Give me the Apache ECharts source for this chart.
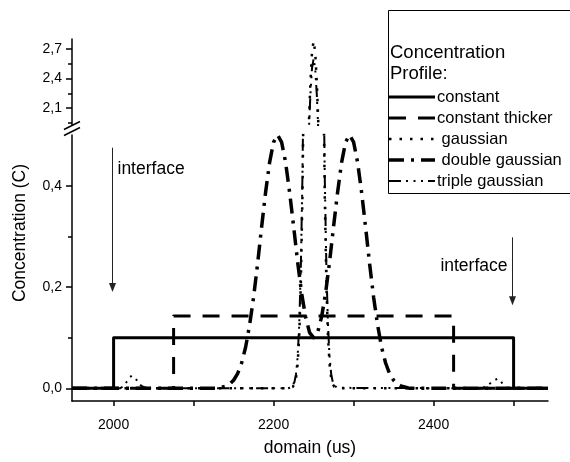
<!DOCTYPE html>
<html>
<head>
<meta charset="utf-8">
<script src="https://cdn.jsdelivr.net/npm/echarts@6/dist/echarts.min.js"></script>
<style>
  html, body { margin: 0; padding: 0; background: #fff; }
  #chart { width: 570px; height: 462px; }
</style>
</head>
<body>
<div id="chart"></div>
<script>
const FONT = 'Liberation Sans, Arial, sans-serif'

// domain axis
const domainMin = 1948
const domainMax = 2543
const domainTicks = [2000, 2100, 2200, 2300, 2400, 2500]
const domainLabels = [2000, 2200, 2400]

// broken concentration axis
const upperMin = 1.93
const upperMax = 2.8
const upperTicks = [2.1, 2.4, 2.7]
const upperMinorTicks = [1.95, 2.25, 2.55]
const lowerMin = -0.025
const lowerMax = 0.5
const lowerTicks = [0, 0.2, 0.4]
const lowerMinorTicks = [0.1, 0.3]

const profileNames = ['constant', 'constant thicker', 'gaussian', 'double gaussian', 'triple gaussian']

// profiles: [domain, concentration]
const constant = [[1948, 0], [2000, 0], [2000, 0.1], [2500, 0.1], [2500, 0], [2543, 0]]
const constantThicker = [[1948, 0], [2075, 0], [2075, 0.143], [2425, 0.143], [2425, 0], [2543, 0]]
const gaussian = [
  [1948, 0], [2220, 0], [2222, 0.001], [2224, 0.003], [2226, 0.008], [2228, 0.02], [2230, 0.047],
  [2232, 0.102], [2234, 0.204], [2236, 0.376], [2238, 0.64], [2240, 1.002], [2242, 1.447],
  [2244, 1.926], [2246, 2.361], [2248, 2.669], [2250, 2.78], [2252, 2.669], [2254, 2.361],
  [2256, 1.926], [2258, 1.447], [2260, 1.002], [2262, 0.64], [2264, 0.376], [2266, 0.204],
  [2268, 0.102], [2270, 0.047], [2272, 0.02], [2274, 0.008], [2276, 0.003], [2278, 0.001],
  [2280, 0], [2543, 0]
]
const doubleGaussian = [
  [1948, 0], [2130, 0], [2135, 0.002], [2140, 0.004], [2145, 0.008], [2150, 0.016], [2155, 0.029],
  [2160, 0.05], [2165, 0.081], [2170, 0.125], [2175, 0.18], [2180, 0.246], [2185, 0.318],
  [2190, 0.387], [2195, 0.446], [2200, 0.486], [2205, 0.5], [2210, 0.486], [2215, 0.446],
  [2220, 0.387], [2225, 0.32], [2230, 0.25], [2235, 0.188], [2240, 0.141], [2245, 0.11],
  [2250, 0.1], [2255, 0.11], [2260, 0.141], [2265, 0.188], [2270, 0.25], [2275, 0.32],
  [2280, 0.387], [2285, 0.446], [2290, 0.486], [2295, 0.5], [2300, 0.486], [2305, 0.446],
  [2310, 0.387], [2315, 0.318], [2320, 0.246], [2325, 0.18], [2330, 0.125], [2335, 0.081],
  [2340, 0.05], [2345, 0.029], [2350, 0.016], [2355, 0.008], [2360, 0.004], [2365, 0.002],
  [2370, 0], [2543, 0]
]
const tripleGaussian = [
  [1948, 0], [2008, 0], [2012, 0.004], [2016, 0.012], [2020, 0.022], [2023, 0.025], [2026, 0.022],
  [2030, 0.014], [2034, 0.006], [2038, 0.002], [2042, 0], [2218, 0], [2220, 0.001], [2222, 0.002],
  [2224, 0.005], [2226, 0.012], [2228, 0.028], [2230, 0.061], [2232, 0.124], [2234, 0.235],
  [2236, 0.413], [2238, 0.674], [2240, 1.018], [2242, 1.427], [2244, 1.855], [2246, 2.238],
  [2248, 2.504], [2250, 2.6], [2252, 2.504], [2254, 2.238], [2256, 1.855], [2258, 1.427],
  [2260, 1.018], [2262, 0.674], [2264, 0.413], [2266, 0.235], [2268, 0.124], [2270, 0.061],
  [2272, 0.028], [2274, 0.012], [2276, 0.005], [2278, 0.002], [2280, 0.001], [2282, 0],
  [2460, 0], [2464, 0.003], [2468, 0.007], [2472, 0.011], [2476, 0.016], [2480, 0.019],
  [2483, 0.017], [2486, 0.009], [2489, 0.003], [2492, 0], [2543, 0]
]

// interface arrows: domain position, arrow top / tip and label height in concentration units
const interfaceArrows = [
  { x: 2000, from: 0.475, to: 0.19, label: 0.432, side: 'right' },
  { x: 2500, from: 0.298, to: 0.164, label: 0.242, side: 'left' },
]

const lineStyles = {
  'constant': { width: 3, type: 'solid' },
  'constant thicker': { width: 3, type: [17, 12] },
  'gaussian': { width: 2.5, type: [2.5, 8] },
  'double gaussian': { width: 3.5, type: [15, 7, 3, 7] },
  'triple gaussian': { width: 2, type: [12, 5, 2, 5.5, 2, 5.5, 2, 5] },
}
const profileData = {
  'constant': constant,
  'constant thicker': constantThicker,
  'gaussian': gaussian,
  'double gaussian': doubleGaussian,
  'triple gaussian': tripleGaussian,
}

const axisColor = '#000'
const tickLabel = v => v.toFixed(1).replace('.', ',')

function makeSeries(name, gridIdx) {
  return {
    name,
    type: 'line',
    xAxisIndex: gridIdx,
    yAxisIndex: gridIdx === 0 ? 0 : 2,
    data: profileData[name],
    symbol: 'none',
    showSymbol: false,
    clip: true,
    silent: true,
    lineStyle: Object.assign({ color: '#000', cap: 'butt', join: 'round' }, lineStyles[name]),
    itemStyle: { color: '#000' },
  }
}

const series = profileNames.map(n => makeSeries(n, 1))
  .concat(['gaussian', 'triple gaussian'].map(n => makeSeries(n, 0)))

const chart = echarts.init(document.getElementById('chart'), null, { renderer: 'canvas' })

chart.setOption({
  animation: false,
  backgroundColor: '#fff',
  grid: [
    { left: 72, top: 39, width: 476, height: 86 },
    { left: 72, top: 135, width: 476, height: 271 },
  ],
  xAxis: [
    { gridIndex: 0, type: 'value', min: domainMin, max: domainMax, show: false },
    {
      gridIndex: 1, type: 'value', min: domainMin, max: domainMax,
      axisLine: { show: true, onZero: false, lineStyle: { color: axisColor, width: 1.5 } },
      axisTick: { show: true, customValues: domainTicks, length: 5, lineStyle: { color: axisColor, width: 1.5 } },
      axisLabel: {
        customValues: domainLabels, formatter: v => String(v), margin: 17,
        color: '#000', fontFamily: FONT, fontSize: 14,
      },
      splitLine: { show: false },
      name: 'domain (us)', nameLocation: 'middle', nameGap: 38,
      nameTextStyle: { color: '#000', fontFamily: FONT, fontSize: 17.5 },
    },
  ],
  yAxis: [
    {
      gridIndex: 0, type: 'value', min: upperMin, max: upperMax, position: 'left',
      axisLine: { show: true, lineStyle: { color: axisColor, width: 1.5 } },
      axisTick: { show: true, customValues: upperTicks, length: 6, lineStyle: { color: axisColor, width: 1.5 } },
      axisLabel: { customValues: upperTicks, formatter: tickLabel, margin: 10, color: '#000', fontFamily: FONT, fontSize: 14 },
      splitLine: { show: false },
    },
    {
      gridIndex: 0, type: 'value', min: upperMin, max: upperMax, position: 'left',
      axisLine: { show: false },
      axisTick: { show: true, customValues: upperMinorTicks, length: 4, lineStyle: { color: axisColor, width: 1.5 } },
      axisLabel: { show: false },
      splitLine: { show: false },
    },
    {
      gridIndex: 1, type: 'value', min: lowerMin, max: lowerMax, position: 'left',
      axisLine: { show: true, onZero: false, lineStyle: { color: axisColor, width: 1.5 } },
      axisTick: { show: true, customValues: lowerTicks, length: 6, lineStyle: { color: axisColor, width: 1.5 } },
      axisLabel: { customValues: lowerTicks, formatter: tickLabel, margin: 10, color: '#000', fontFamily: FONT, fontSize: 14 },
      splitLine: { show: false },
    },
    {
      gridIndex: 1, type: 'value', min: lowerMin, max: lowerMax, position: 'left',
      axisLine: { show: false },
      axisTick: { show: true, customValues: lowerMinorTicks, length: 4, lineStyle: { color: axisColor, width: 1.5 } },
      axisLabel: { show: false },
      splitLine: { show: false },
    },
  ],
  series,
})

// legend box, titles and annotations
const graphics = [
  {
    type: 'rect', shape: { x: 388.5, y: 10.5, width: 200, height: 183 },
    style: { fill: 'none', stroke: '#000', lineWidth: 1 }, silent: true,
  },
  { type: 'text', x: 390, y: 53, style: { text: 'Concentration', fill: '#000', font: '18.5px ' + FONT, verticalAlign: 'middle' } },
  { type: 'text', x: 390, y: 74, style: { text: 'Profile:', fill: '#000', font: '18.5px ' + FONT, verticalAlign: 'middle' } },
  {
    type: 'text', x: 20, y: 233, rotation: Math.PI / 2,
    style: { text: 'Concentration (C)', fill: '#000', font: '17.5px ' + FONT, align: 'center', verticalAlign: 'middle' },
  },
  // axis break marks
  { type: 'line', shape: { x1: 64, y1: 129.5, x2: 80, y2: 121.5 }, style: { stroke: '#000', lineWidth: 1.5 } },
  { type: 'line', shape: { x1: 64, y1: 135.5, x2: 80, y2: 127.5 }, style: { stroke: '#000', lineWidth: 1.5 } },
]

profileNames.forEach((name, i) => {
  const y = 97 + i * 21
  const ls = lineStyles[name]
  graphics.push({
    type: 'line', shape: { x1: 389, y1: y, x2: 435, y2: y },
    style: { stroke: '#000', lineWidth: ls.width, lineDash: Array.isArray(ls.type) ? ls.type : null },
  })
  const pad = (name === 'gaussian' || name === 'double gaussian') ? ' ' : ''
  graphics.push({
    type: 'text', x: 437, y: y,
    style: { text: pad + name, fill: '#000', font: '16.5px ' + FONT, verticalAlign: 'middle' },
  })
})

interfaceArrows.forEach(a => {
  const [px, py1] = chart.convertToPixel({ gridIndex: 1 }, [a.x, a.from])
  const py2 = chart.convertToPixel({ gridIndex: 1 }, [a.x, a.to])[1]
  const ly = chart.convertToPixel({ gridIndex: 1 }, [a.x, a.label])[1]
  const x = Math.round(px) - 1.5
  graphics.push({ type: 'line', shape: { x1: x, y1: py1, x2: x, y2: py2 - 8 }, style: { stroke: '#222', lineWidth: 1 } })
  graphics.push({
    type: 'polygon', shape: { points: [[x - 3.5, py2 - 9], [x + 3.5, py2 - 9], [x, py2]] },
    style: { fill: '#222' },
  })
  graphics.push({
    type: 'text', x: a.side === 'right' ? x + 5 : x - 5, y: ly,
    style: { text: 'interface', fill: '#000', font: '17.5px ' + FONT, align: a.side === 'right' ? 'left' : 'right', verticalAlign: 'middle' },
  })
})

chart.setOption({ graphic: graphics })
</script>
</body>
</html>
